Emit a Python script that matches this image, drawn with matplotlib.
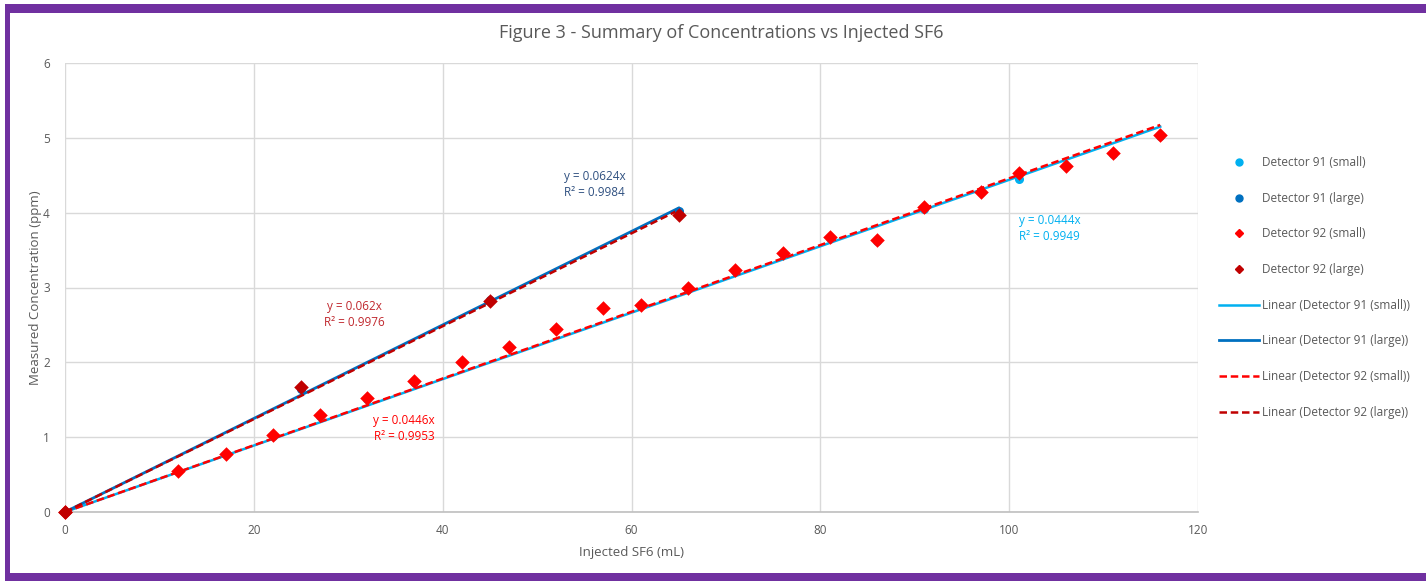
import matplotlib
matplotlib.use("Agg")
import matplotlib.pyplot as plt
import numpy as np
from matplotlib.patches import Rectangle
from matplotlib.lines import Line2D

plt.rcParams['font.family'] = ['Open Sans', 'DejaVu Sans']

# ---- data ----
x91_small = [0, 12, 17, 22, 27, 32, 37, 42, 47, 52, 57, 61, 66, 71, 76, 81, 86, 91, 97, 101, 106, 111, 116]
y91_small = [0, 0.55, 0.77, 1.02, 1.28, 1.51, 1.74, 2.00, 2.20, 2.44, 2.72, 2.76, 2.98, 3.22, 3.45, 3.66, 3.62, 4.05, 4.27, 4.45, 4.62, 4.79, 5.03]
x91_large = [0, 25, 45, 65]
y91_large = [0, 1.64, 2.83, 4.02]
x92_small = [0, 12, 17, 22, 27, 32, 37, 42, 47, 52, 57, 61, 66, 71, 76, 81, 86, 91, 97, 101, 106, 111, 116]
y92_small = [0, 0.55, 0.78, 1.03, 1.29, 1.52, 1.75, 2.01, 2.21, 2.45, 2.73, 2.77, 2.99, 3.23, 3.46, 3.67, 3.63, 4.07, 4.28, 4.53, 4.63, 4.80, 5.04]
x92_large = [0, 25, 45, 65]
y92_large = [0, 1.67, 2.82, 3.97]

eq_labels = ["y = 0.0444x\nR² = 0.9949", "y = 0.0624x\nR² = 0.9984",
             "y = 0.0446x\nR² = 0.9953", "y = 0.062x\nR² = 0.9976"]
series_names = ["Detector 91 (small)", "Detector 91 (large)", "Detector 92 (small)", "Detector 92 (large)"]

c91s, c91l, c92s, c92l = "#00B0F0", "#0070C0", "#FF0000", "#C00000"

W, H = 1426, 581
fig = plt.figure(figsize=(W / 100, H / 100), dpi=100)
fig.patch.set_facecolor("white")

# purple border
fig.patches.append(Rectangle((5 / W, 0), 1, 1 - 4 / H, transform=fig.transFigure,
                             facecolor="#7030A0", edgecolor="none", zorder=-10))
fig.patches.append(Rectangle((10 / W, 8 / H), 1, 1 - 21 / H, transform=fig.transFigure,
                             facecolor="white", edgecolor="none", zorder=-9))

L, R, T, B = 65, 1198, 63, 512
ax = fig.add_axes([L / W, 1 - B / H, (R - L) / W, (B - T) / H])
ax.set_facecolor("none")
ax.set_xlim(0, 120)
ax.set_ylim(0, 6)
ax.set_xticks(np.arange(0, 121, 20))
ax.set_yticks(np.arange(0, 7, 1))
ax.grid(True, color="#D9D9D9", linewidth=1)
ax.set_axisbelow(True)
for s in ["top", "right", "left"]:
    ax.spines[s].set_visible(False)
ax.spines["bottom"].set_color("#BFBFBF")
ax.spines["bottom"].set_linewidth(1.2)
ax.tick_params(length=0, labelsize=8.5, colors="#595959")
ax.tick_params(axis="x", pad=9)
ax.tick_params(axis="y", pad=11)


def fit(x, y):
    x = np.asarray(x, float); y = np.asarray(y, float)
    return (x * y).sum() / (x * x).sum()


def trend(x, y, color, ls, lw):
    m = fit(x, y)
    xx = np.array([0, max(x)])
    ax.plot(xx, m * xx, color=color, ls=ls, lw=lw, zorder=3)

trend(x91_small, y91_small, c91s, "-", 1.8)
trend(x91_large, y91_large, c91l, "-", 2.0)
trend(x92_small, y92_small, c92s, (0, (3, 1.5)), 1.8)
trend(x92_large, y92_large, c92l, (0, (3, 1.5)), 1.8)

ax.scatter(x91_small, y91_small, s=30, color=c91s, marker="o", zorder=4, clip_on=False)
ax.scatter(x91_large, y91_large, s=30, color=c91l, marker="o", zorder=4, clip_on=False)
ax.scatter(x92_small, y92_small, s=55, color=c92s, marker="D", zorder=5, clip_on=False, linewidths=0)
ax.scatter(x92_large, y92_large, s=55, color=c92l, marker="D", zorder=5, clip_on=False, linewidths=0)

# trendline equations
fs_eq = 8.5
ax.text(101.0, 3.98, eq_labels[0], color=c91s, fontsize=fs_eq, va="top", ha="left", linespacing=1.3)
ax.text(56.1, 4.57, eq_labels[1], color="#2F5080", fontsize=fs_eq, va="top", ha="center", linespacing=1.3)
ax.text(35.9, 1.31, eq_labels[2], color=c92s, fontsize=fs_eq, va="top", ha="center", linespacing=1.3)
ax.text(30.7, 2.83, eq_labels[3], color="#C0282E", fontsize=fs_eq, va="top", ha="center", linespacing=1.3)

ax.set_xlabel("Injected SF6 (mL)", fontsize=9.5, color="#595959", labelpad=6)
ax.set_ylabel("Measured Concentration (ppm)", fontsize=9.5, color="#595959", labelpad=0.5)
fig.text(721 / W, 1 - 33 / H, "Figure 3 - Summary of Concentrations vs Injected SF6",
         ha="center", va="center", fontsize=13, color="#595959")

handles = [
    Line2D([], [], ls="none", marker="o", color=c91s, markersize=5),
    Line2D([], [], ls="none", marker="o", color=c91l, markersize=5),
    Line2D([], [], ls="none", marker="D", color=c92s, markersize=4),
    Line2D([], [], ls="none", marker="D", color=c92l, markersize=4),
    Line2D([], [], color=c91s, lw=1.8),
    Line2D([], [], color=c91l, lw=2.0),
    Line2D([], [], color=c92s, lw=1.8, ls=(0, (3, 1.5))),
    Line2D([], [], color=c92l, lw=1.8, ls=(0, (3, 1.5))),
]
labels = series_names + ["Linear (%s)" % n for n in series_names]
fig.legend(handles, labels, loc="upper left", bbox_to_anchor=(1219 / W, 1 - 156 / H),
           frameon=False, fontsize=8.5, labelcolor="#595959", handlelength=3.4,
           handletextpad=0.25, labelspacing=1.92, borderaxespad=0, borderpad=0)

fig.savefig("out.png", dpi=100)
